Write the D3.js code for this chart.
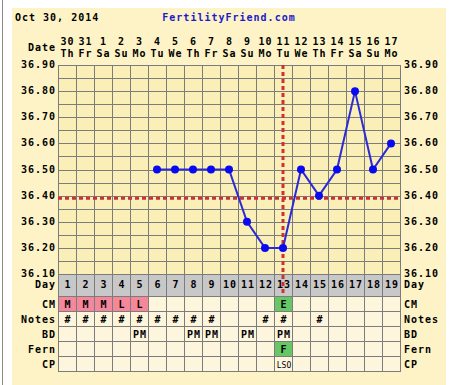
<!DOCTYPE html>
<html>
<head>
<meta charset="utf-8">
<script src="https://cdn.jsdelivr.net/npm/d3@7"></script>
<style>
  html, body { margin: 0; padding: 0; background: #fff; }
  svg { display: block; }
  text { font-family: 'DejaVu Sans Mono', monospace; font-weight: bold; font-size: 10px; letter-spacing: 1px; }
</style>
</head>
<body>
<svg id="chart" width="456" height="385"></svg>
<script>
// chart data
const chartDate = 'Oct 30, 2014'
const siteName = 'FertilityFriend.com'
const cycleDays = [1, 2, 3, 4, 5, 6, 7, 8, 9, 10, 11, 12, 13, 14, 15, 16, 17, 18, 19]
const dates = ['30', '31', '1', '2', '3', '4', '5', '6', '7', '8', '9', '10', '11', '12', '13', '14', '15', '16', '17']
const weekdays = ['Th', 'Fr', 'Sa', 'Su', 'Mo', 'Tu', 'We', 'Th', 'Fr', 'Sa', 'Su', 'Mo', 'Tu', 'We', 'Th', 'Fr', 'Sa', 'Su', 'Mo']
const temps = [null, null, null, null, null, 36.5, 36.5, 36.5, 36.5, 36.5, 36.3, 36.2, 36.2, 36.5, 36.4, 36.5, 36.8, 36.5, 36.6]
const cmRow = ['M', 'M', 'M', 'L', 'L', '', '', '', '', '', '', '', 'E', '', '', '', '', '', '']
const notesRow = ['#', '#', '#', '#', '#', '#', '#', '#', '#', '', '', '#', '#', '', '#', '', '', '', '']
const bdRow = ['', '', '', '', 'PM', '', '', 'PM', 'PM', '', 'PM', '', 'PM', '', '', '', '', '', '']
const fernRow = ['', '', '', '', '', '', '', '', '', '', '', '', 'F', '', '', '', '', '', '']
const cpRow = ['', '', '', '', '', '', '', '', '', '', '', '', 'LSO', '', '', '', '', '', '']
const tempDomain = [36.1, 36.9]
const coverline = 36.39
const ovulationDay = 13

const svg = d3.select('#chart')

// frame
svg.append('rect').attr('x', 12).attr('y', 8).attr('width', 434).attr('height', 377).attr('fill', '#fdf3c6')
svg.append('line').attr('x1', 2.5).attr('x2', 2.5).attr('y1', 0).attr('y2', 385).attr('stroke', '#8a8a8a')

const plotLeft = 58, plotRight = 400, plotTop = 65, plotBottom = 274
const x = d3.scaleBand().domain(cycleDays).range([plotLeft, plotRight])
const y = d3.scaleLinear().domain(tempDomain).range([plotBottom, plotTop])
const cx = (d) => x(d) + x.bandwidth() / 2

// header
svg.append('text').attr('x', 15).attr('y', 21).text(chartDate)
svg.append('text').attr('x', (plotLeft + plotRight) / 2).attr('y', 21).attr('text-anchor', 'middle')
  .attr('fill', '#1a1acc').text(siteName)
svg.append('text').attr('x', 56).attr('y', 51).attr('text-anchor', 'end').text('Date')
const head = svg.append('g')
head.selectAll('text.dt').data(cycleDays).join('text').attr('class', 'dt')
  .attr('x', (d) => cx(d) + 0.5).attr('y', 45).attr('text-anchor', 'middle').text((d, i) => dates[i])
head.selectAll('text.wd').data(cycleDays).join('text').attr('class', 'wd')
  .attr('x', (d) => cx(d) + 0.5).attr('y', 57).attr('text-anchor', 'middle').text((d, i) => weekdays[i])

// plot area
svg.append('rect').attr('x', plotLeft).attr('y', plotTop).attr('width', plotRight - plotLeft).attr('height', plotBottom - plotTop)
  .attr('fill', '#fbefb8')

const grid = svg.append('g').attr('stroke', '#7c7c7c').attr('stroke-width', 1)
const minorTicks = d3.range(0, 17).map((i) => tempDomain[0] + i * 0.05)
grid.selectAll('line.h').data(minorTicks).join('line').attr('class', 'h')
  .attr('x1', plotLeft).attr('x2', plotRight)
  .attr('y1', (d) => Math.round(y(d)) + 0.5).attr('y2', (d) => Math.round(y(d)) + 0.5)
grid.selectAll('line.v').data(cycleDays.concat([20])).join('line').attr('class', 'v')
  .attr('x1', (d) => (d === 20 ? plotRight : x(d)) + 0.5).attr('x2', (d) => (d === 20 ? plotRight : x(d)) + 0.5)
  .attr('y1', plotTop).attr('y2', plotBottom)

// temperature labels
const majorTicks = d3.range(0, 9).map((i) => tempDomain[0] + i * 0.1)
svg.selectAll('text.yl').data(majorTicks).join('text').attr('class', 'yl')
  .attr('x', 56).attr('y', (d) => y(d) + 3).attr('text-anchor', 'end').text(d3.format('.2f'))
svg.selectAll('text.yr').data(majorTicks).join('text').attr('class', 'yr')
  .attr('x', 404).attr('y', (d) => y(d) + 3).text(d3.format('.2f'))

// table rows below the chart
const rows = [
  { label: 'Day', values: cycleDays.map(String), h: 22, fill: '#c8c8c8' },
  { label: 'CM', values: cmRow, h: 15 },
  { label: 'Notes', values: notesRow, h: 15 },
  { label: 'BD', values: bdRow, h: 15 },
  { label: 'Fern', values: fernRow, h: 15 },
  { label: 'CP', values: cpRow, h: 15 },
]
const cellFill = (v) => {
  if (v === 'M' || v === 'L') return '#f5879b'
  if (v === 'E' || v === 'F') return '#66c766'
  return '#fdf5dc'
}
let rowY = plotBottom
rows.forEach((row) => {
  const g = svg.append('g').attr('transform', `translate(0,${rowY})`)
  const base = row.h > 15 ? 14 : 11.5
  g.selectAll('rect').data(cycleDays).join('rect')
    .attr('x', (d) => x(d) + 0.5).attr('y', 0.5).attr('width', x.bandwidth()).attr('height', row.h)
    .attr('fill', (d, i) => row.fill || cellFill(row.values[i]))
    .attr('stroke', '#7c7c7c')
  g.selectAll('text.cell').data(cycleDays).join('text').attr('class', 'cell')
    .attr('x', (d) => cx(d) + 1).attr('y', base).attr('text-anchor', 'middle')
    .style('font-size', (d, i) => (row.values[i] === 'LSO' ? '8px' : '10px'))
    .style('font-weight', (d, i) => (row.values[i] === 'LSO' ? 'normal' : 'bold'))
    .style('letter-spacing', (d, i) => (row.values[i] === 'LSO' ? '0px' : '1px'))
    .text((d, i) => row.values[i])
  g.append('text').attr('x', 56).attr('y', base).attr('text-anchor', 'end').text(row.label)
  g.append('text').attr('x', 404).attr('y', base).text(row.label)
  rowY += row.h
})

// coverline and ovulation line
svg.append('line').attr('x1', plotLeft).attr('x2', plotRight)
  .attr('y1', y(coverline)).attr('y2', y(coverline))
  .attr('stroke', '#d03030').attr('stroke-width', 3).attr('stroke-dasharray', '4,3')
svg.append('line').attr('x1', cx(ovulationDay)).attr('x2', cx(ovulationDay))
  .attr('y1', plotTop).attr('y2', plotBottom + 22)
  .attr('stroke', '#d03030').attr('stroke-width', 3).attr('stroke-dasharray', '4,3')

// temperatures
const points = cycleDays.map((d, i) => ({ day: d, t: temps[i] })).filter((p) => p.t !== null)
svg.append('path').datum(points)
  .attr('d', d3.line().x((p) => cx(p.day)).y((p) => y(p.t)))
  .attr('fill', 'none').attr('stroke', '#2a2ad6').attr('stroke-width', 2)
svg.selectAll('circle.pt').data(points).join('circle').attr('class', 'pt')
  .attr('cx', (p) => cx(p.day)).attr('cy', (p) => y(p.t)).attr('r', 4)
  .attr('fill', '#0a0af0')
</script>
</body>
</html>
